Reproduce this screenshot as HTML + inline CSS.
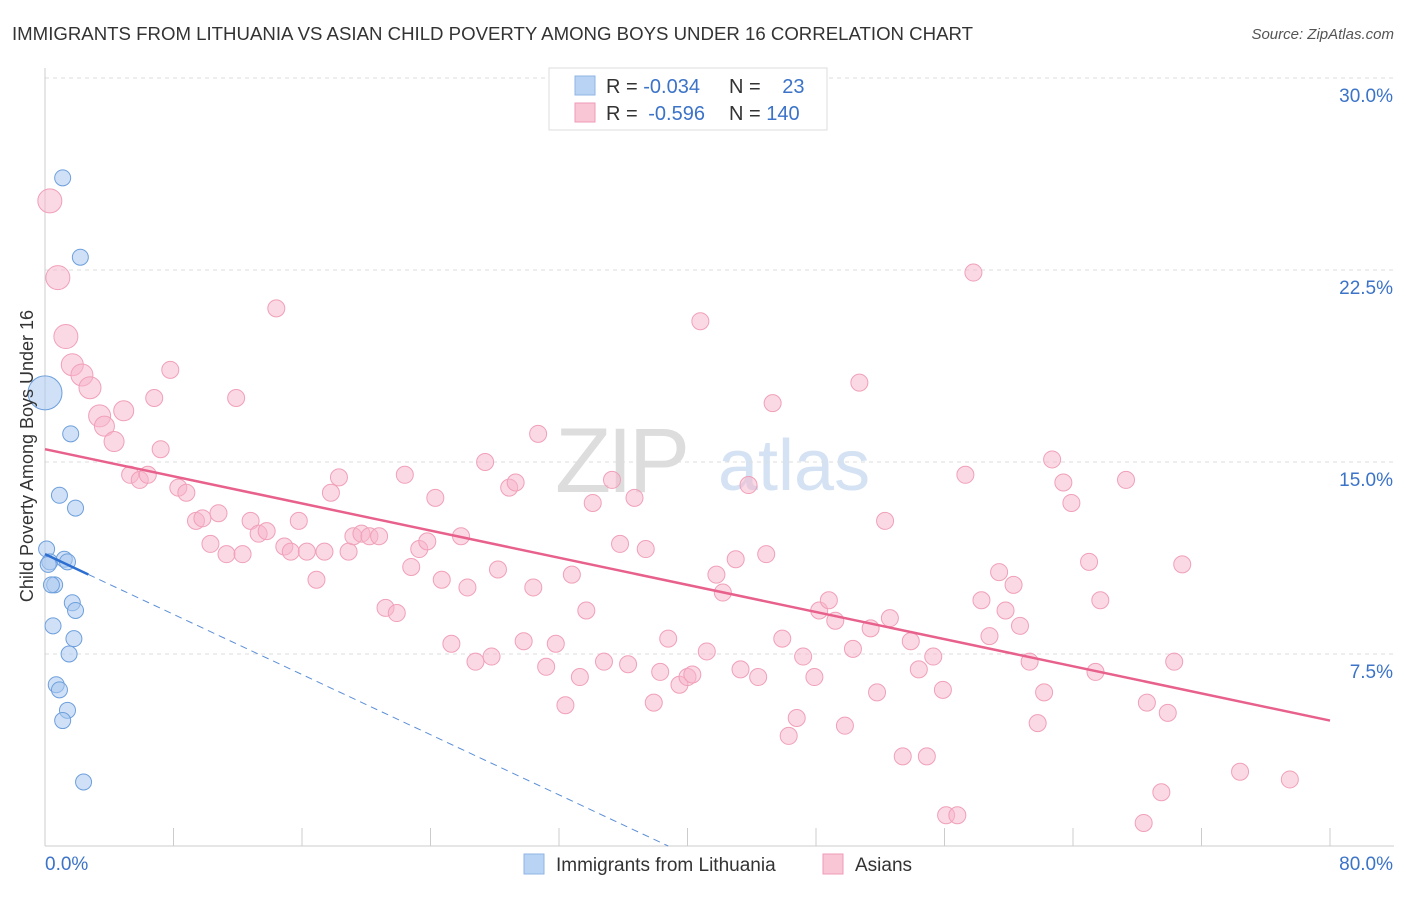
<!DOCTYPE html>
<html><head><meta charset="utf-8"><style>
body{margin:0;background:#fff;font-family:"Liberation Sans",sans-serif;}
svg text{font-family:"Liberation Sans",sans-serif;}
</style></head><body>
<svg id="chart" width="1406" height="892" xmlns="http://www.w3.org/2000/svg">
<text x="12" y="40" font-size="18" fill="#333" textLength="961" lengthAdjust="spacingAndGlyphs">IMMIGRANTS FROM LITHUANIA VS ASIAN CHILD POVERTY AMONG BOYS UNDER 16 CORRELATION CHART</text>
<text x="1394" y="39" font-size="15" fill="#555" font-style="italic" text-anchor="end">Source: ZipAtlas.com</text>
<g>
<text x="555" y="492" font-size="92" fill="#ddd" font-family="Liberation Serif" letter-spacing="-4">ZIP</text>
<text x="718" y="490" font-size="72" fill="#d4e2f4">atlas</text>
</g>
<g id="grid"></g>
<g id="axes"></g>
<g id="pink"></g>
<g id="blue"></g>
<g id="trends"></g>
<text transform="translate(33,456) rotate(-90)" font-size="18" fill="#333" text-anchor="middle">Child Poverty Among Boys Under 16</text>
<g>
<rect x="549" y="68" width="278" height="62" fill="#fff" stroke="#ddd"/>
<rect x="575" y="76" width="20" height="19" fill="#b8d3f3" stroke="#8fb6e6"/>
<rect x="575" y="103" width="20" height="19" fill="#f9c6d6" stroke="#f09bb5"/>
<text x="606" y="93" font-size="20" fill="#333">R = <tspan fill="#3b73c8">-0.034</tspan></text>
<text x="729" y="93" font-size="20" fill="#333">N = <tspan fill="#3b73c8" dx="16">23</tspan></text>
<text x="606" y="120" font-size="20" fill="#333">R = <tspan fill="#3b73c8" dx="5">-0.596</tspan></text>
<text x="729" y="120" font-size="20" fill="#333">N = <tspan fill="#3b73c8">140</tspan></text>
</g>
<g>
<rect x="524" y="854" width="20" height="20" fill="#b8d3f3" stroke="#8fb6e6"/>
<text x="556" y="871" font-size="19" fill="#333">Immigrants from Lithuania</text>
<rect x="823" y="854" width="20" height="20" fill="#f9c6d6" stroke="#f09bb5"/>
<text x="855" y="871" font-size="19" fill="#333">Asians</text>
</g>
</svg>
<script>
const yTicks=[7.5,15,22.5,30];
const yTickLabels=["7.5%","15.0%","22.5%","30.0%"];
const xTickLabels=["0.0%","80.0%"];
const blueX=[1.1,2.2,0,1.6,0.9,1.9,0.1,0.3,1.2,1.4,0.6,0.4,1.7,1.9,0.5,1.8,1.5,0.7,0.9,1.4,1.1,2.4,0.2];
const blueY=[26.1,23.0,17.7,16.1,13.7,13.2,11.6,11.1,11.2,11.1,10.2,10.2,9.5,9.2,8.6,8.1,7.5,6.3,6.1,5.3,4.9,2.5,11.0];
const blueR=[8,8,17,8,8,8,8,8,8,8,8,8,8,8,8,8,8,8,8,8,8,8,8];
const pinkX=[0.3,0.8,1.3,1.7,2.3,2.8,3.4,3.7,4.3,4.9,7.8,6.8,14.4,11.9,7.2,5.3,5.9,6.4,8.3,8.8,9.4,9.8,10.8,10.3,11.3,12.3,12.8,13.3,13.8,14.9,15.3,15.8,16.3,17.4,16.9,17.8,18.3,18.9,19.2,19.7,20.2,20.8,21.2,21.9,22.4,22.8,23.3,23.8,24.3,24.7,25.3,25.9,26.3,26.8,27.4,27.8,28.2,28.9,29.3,29.8,30.4,30.7,31.2,31.8,32.4,32.8,33.3,33.7,34.1,34.8,35.3,35.8,36.3,36.7,37.4,37.9,38.3,38.8,39.5,40.0,40.3,40.8,41.2,41.8,42.2,43.0,43.3,43.8,44.4,44.9,45.3,45.9,46.3,46.8,47.2,47.9,48.2,48.8,49.2,49.8,50.3,50.7,51.4,51.8,52.3,52.6,53.4,53.9,54.4,54.9,55.3,55.9,56.1,56.8,57.3,57.8,58.3,58.8,59.4,59.8,60.3,60.7,61.3,61.8,62.2,62.7,63.4,63.9,65.0,65.4,65.7,67.3,68.6,69.5,69.9,70.3,70.8,68.4,74.4,77.5];
const pinkY=[25.2,22.2,19.9,18.8,18.4,17.9,16.8,16.4,15.8,17.0,18.6,17.5,21.0,17.5,15.5,14.5,14.3,14.5,14.0,13.8,12.7,12.8,13.0,11.8,11.4,11.4,12.7,12.2,12.3,11.7,11.5,12.7,11.5,11.5,10.4,13.8,14.4,11.5,12.1,12.2,12.1,12.1,9.3,9.1,14.5,10.9,11.6,11.9,13.6,10.4,7.9,12.1,10.1,7.2,15.0,7.4,10.8,14.0,14.2,8.0,10.1,16.1,7.0,7.9,5.5,10.6,6.6,9.2,13.4,7.2,14.3,11.8,7.1,13.6,11.6,5.6,6.8,8.1,6.3,6.6,6.7,20.5,7.6,10.6,9.9,11.2,6.9,14.1,6.6,11.4,17.3,8.1,4.3,5.0,7.4,6.6,9.2,9.6,8.8,4.7,7.7,18.1,8.5,6.0,12.7,8.9,3.5,8.0,6.9,3.5,7.4,6.1,1.2,1.2,14.5,22.4,9.6,8.2,10.7,9.2,10.2,8.6,7.2,4.8,6.0,15.1,14.2,13.4,11.1,6.8,9.6,14.3,5.6,2.1,5.2,7.2,11.0,0.9,2.9,2.6];
const pinkR=[12,12,12,11,11,11,11,10,10,10];
const pinkTrend=[15.5,4.9];
const blueTrend=[11.4,0];
const blueSolidEnd=2.7, blueDashEnd=38.8;
const X=v=>45+v/80*1285, Y=v=>846-v*25.6;
const NS="http://www.w3.org/2000/svg";
function mk(p,t,a){const e=document.createElementNS(NS,t);for(const k in a)e.setAttribute(k,a[k]);p.appendChild(e);return e;}
const grid=document.getElementById('grid'),axes=document.getElementById('axes');
yTicks.forEach((t,i)=>{
 const l=mk(grid,'line',{x1:45,x2:1394,y1:Y(t),y2:Y(t),stroke:'#ddd','stroke-dasharray':'4,4'});
 
 
 const tx=mk(axes,'text',{x:1393,y:Y(t)+24,'font-size':19,fill:'#3b73c8','text-anchor':'end'});
 tx.textContent=yTickLabels[i];
 
 
});
mk(axes,'line',{x1:45,x2:45,y1:68,y2:846,stroke:'#ccc'});
mk(axes,'line',{x1:45,x2:1394,y1:846,y2:846,stroke:'#ccc'});
for(let i=1;i<=10;i++){const l=mk(axes,'line',{x1:X(i*8),x2:X(i*8),y1:828,y2:846,stroke:'#ccc'});
 
 }
const t0=mk(axes,'text',{x:45,y:870,'font-size':19,fill:'#3b73c8'});t0.textContent=xTickLabels[0];


const t1=mk(axes,'text',{x:1393,y:870,'font-size':19,fill:'#3b73c8','text-anchor':'end'});t1.textContent=xTickLabels[1];


const pg=document.getElementById('pink');
pinkX.forEach((x,i)=>{const c=mk(pg,'circle',{cx:X(x),cy:Y(pinkY[i]),r:pinkR[i]||8.5,fill:'rgba(248,180,202,0.5)',stroke:'#f0a0b8','stroke-width':1});
 
 });
const bg=document.getElementById('blue');
blueX.forEach((x,i)=>{const c=mk(bg,'circle',{cx:X(x),cy:Y(blueY[i]),r:blueR[i],fill:'rgba(170,200,240,0.55)',stroke:'#6d9fdc','stroke-width':1});
 
 });
const tg=document.getElementById('trends');
const bl=v=>blueTrend[0]+(blueTrend[1]-blueTrend[0])*v/blueDashEnd;
const p=mk(tg,'line',{x1:X(0),y1:Y(pinkTrend[0]),x2:X(80),y2:Y(pinkTrend[1]),stroke:'#e8608c','stroke-width':2.5});


const bd=mk(tg,'line',{x1:X(blueSolidEnd),y1:Y(bl(blueSolidEnd)),x2:X(blueDashEnd),y2:Y(bl(blueDashEnd)),stroke:'#5b8fd6','stroke-width':1,'stroke-dasharray':'7,5'});


const bs=mk(tg,'line',{x1:X(0),y1:Y(bl(0)),x2:X(blueSolidEnd),y2:Y(bl(blueSolidEnd)),stroke:'#2d6fd0','stroke-width':2.5});


</script>
</body></html>
